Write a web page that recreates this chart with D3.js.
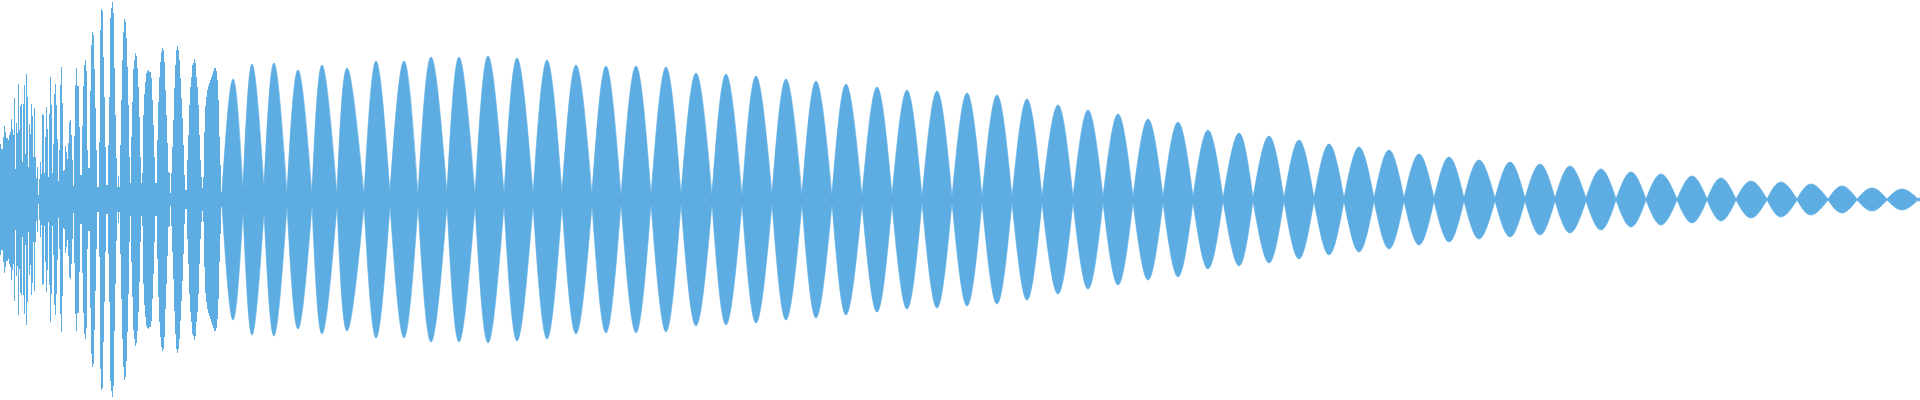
<!DOCTYPE html>
<html>
<head>
<meta charset="utf-8">
<script src="https://cdn.jsdelivr.net/npm/d3@7"></script>
<style>
  html, body { margin: 0; padding: 0; background: #ffffff; }
  svg { display: block; }
</style>
</head>
<body>
<svg id="chart" width="1920" height="400"></svg>
<script>
// ---- data (waveform bins, amplitude normalised to full scale) ----
// attack transient: peak amplitude of each of the first 222 bins
const attackAmp = [
  0.278,0.253,0.253,0.313,0.368,0.338,0.308,0.308,0.298,0.323,
  0.338,0.404,0.353,0.323,0.509,0.153,0.383,0.333,0.579,0.348,
  0.469,0.479,0.188,0.479,0.574,0.228,0.629,0.514,0.163,0.378,
  0.328,0.479,0.419,0.213,0.459,0.213,0.108,0.163,0.023,0.103,
  0.188,0.128,0.429,0.424,0.133,0.313,0.464,0.353,0.113,0.429,
  0.614,0.474,0.133,0.278,0.529,0.579,0.474,0.303,0.093,0.248,
  0.574,0.664,0.484,0.143,0.148,0.268,0.238,0.203,0.283,0.388,
  0.398,0.323,0.198,0.068,0.318,0.574,0.659,0.569,0.569,0.363,
  0.123,0.123,0.368,0.569,0.674,0.699,0.644,0.248,0.158,0.158,
  0.544,0.774,0.840,0.825,0.654,0.459,0.248,0.063,0.063,0.288,
  0.850,0.955,0.945,0.714,0.514,0.263,0.073,0.073,0.273,0.514,
  0.910,0.960,0.990,0.935,0.659,0.424,0.208,0.063,0.120,0.063,
  0.273,0.499,0.699,0.840,0.905,0.890,0.810,0.664,0.474,0.213,
  0.083,0.313,0.489,0.654,0.699,0.734,0.719,0.659,0.564,0.414,
  0.213,0.083,0.133,0.424,0.529,0.589,0.634,0.644,0.649,0.639,
  0.639,0.609,0.499,0.373,0.213,0.083,0.083,0.298,0.489,0.614,
  0.689,0.739,0.759,0.749,0.689,0.549,0.424,0.283,0.138,0.133,
  0.033,0.133,0.263,0.398,0.559,0.674,0.749,0.769,0.749,0.699,
  0.609,0.509,0.409,0.273,0.123,0.048,0.048,0.198,0.323,0.474,
  0.564,0.614,0.674,0.684,0.704,0.684,0.614,0.564,0.474,0.323,
  0.198,0.113,0.058,0.113,0.338,0.469,0.514,0.549,0.569,0.584,
  0.599,0.614,0.629,0.644,0.659,0.659,0.644,0.599,0.499,0.313,
  0.173,0.038
];

// zero-crossing (half-cycle boundary) bins of the decaying tone
const crossBins = [
  222,243,264,287,312,337,364,390,418,
  447,475,504,533,562,592,621,651,681,712,742,772,802,832,862,892,922,952,982,1012,
  1042,1073,1103,1133,1163,1193,1223,1253,1284,1314,1344,1374,1404,1434,1464,1495,1525,1555,1586,1616,
  1646,1677,1707,1736,1767,1797,1828,1857,1887,1918,1920
];
// residual level of the envelope at each crossing bin
const crossAmp = [
  0.038,0.058,0.063,0.033,0.030,0.030,0.030,0.030,0.030,
  0.030,0.030,0.030,0.030,0.030,0.030,0.023,0.023,0.023,0.023,0.023,0.023,0.023,0.023,0.023,0.023,0.015,0.015,0.015,0.015,
  0.015,0.015,0.015,0.015,0.015,0.015,0.008,0.008,0.008,0.008,0.008,0.008,0.008,0.008,0.008,0.008,0.008,0.008,0.008,0.003,
  0.003,0.003,0.003,0.003,0.003,0.003,0.003,0.003,0.003,0.003,0.003
];
// bin of each half-cycle's peak
const peakBins = [
  233,252,274,298,322,347,376,404,431,
  459,488,517,547,576,606,636,666,696,726,756,786,816,846,877,907,937,967,997,1027,
  1058,1088,1118,1148,1178,1208,1239,1269,1299,1329,1359,1389,1419,1449,1479,1510,1540,1570,1601,1631,
  1661,1692,1721,1751,1781,1811,1842,1872,1902,1919
];
// peak amplitude of each half-cycle
const peakAmp = [
  0.604,0.679,0.684,0.649,0.674,0.659,0.694,0.694,0.714,
  0.714,0.719,0.709,0.699,0.674,0.669,0.669,0.664,0.634,0.629,0.619,0.604,0.594,0.579,0.564,0.549,0.544,0.534,0.524,0.504,
  0.474,0.449,0.429,0.404,0.388,0.348,0.333,0.318,0.298,0.278,0.263,0.248,0.228,0.213,0.198,0.188,0.178,0.168,0.153,0.138,
  0.128,0.118,0.108,0.093,0.088,0.078,0.068,0.058,0.053,0.010
];

// ---- drawing ----
const W = 1920, H = 400;
const color = "#5dade2";
const svg = d3.select("#chart");

const x = d3.scaleLinear().domain([0, 1920]).range([0, W]);
const y = d3.scaleLinear().domain([-1, 1]).range([399, 0]);

// attack transient as one bar per bin
svg.append("g")
  .attr("shape-rendering", "crispEdges")
  .selectAll("rect")
  .data(attackAmp)
  .join("rect")
  .attr("x", (d, i) => x(i))
  .attr("width", (d, i) => x(i + 1) - x(i))
  .attr("y", d => y(d))
  .attr("height", d => y(-d) - y(d))
  .attr("fill", color);

// half-cycles of the tone as mirrored areas
const lobes = peakBins.map((p, i) => [
  { t: crossBins[i], a: crossAmp[i] },
  { t: p, a: peakAmp[i] },
  { t: crossBins[i + 1], a: crossAmp[i + 1] }
]);

const area = d3.area()
  .x(d => x(d.t))
  .y0(d => y(-d.a))
  .y1(d => y(d.a))
  .curve(d3.curveNatural);

svg.append("g")
  .selectAll("path")
  .data(lobes)
  .join("path")
  .attr("d", area)
  .attr("fill", color)
  .attr("stroke", color)
  .attr("stroke-width", 0.6);
</script>
</body>
</html>
